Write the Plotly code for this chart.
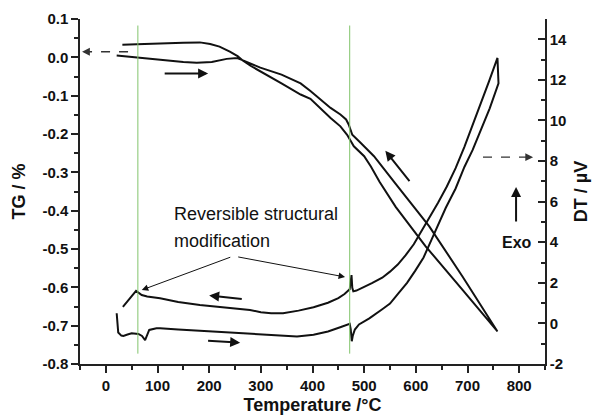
import plotly.graph_objects as go

# ---- TG (mass change, left axis) ----
tg_heat_T = [21, 35, 60, 90, 118, 150, 176, 205, 234, 254, 262, 280, 299, 340, 377, 396,
             435, 454, 465, 470, 474, 477, 493, 519, 561, 626, 690, 758]
tg_heat = [0.005, 0.003, 0.0, -0.004, -0.008, -0.012, -0.014, -0.012, -0.004, -0.002, -0.006,
           -0.017, -0.027, -0.045, -0.068, -0.088, -0.132, -0.149, -0.162, -0.175, -0.189,
           -0.202, -0.223, -0.258, -0.33, -0.441, -0.571, -0.715]

tg_cool_T = [758, 690, 619, 561, 530, 513, 500, 480, 474, 467, 454, 435, 396, 377, 340, 299,
             280, 265, 255, 240, 220, 202, 182, 150, 100, 60, 32]
tg_cool = [-0.715, -0.606, -0.493, -0.39, -0.325, -0.285, -0.258, -0.232, -0.219, -0.202,
           -0.180, -0.158, -0.108, -0.097, -0.068, -0.036, -0.022, -0.008, 0.003, 0.015,
           0.028, 0.035, 0.039, 0.038, 0.035, 0.034, 0.033]

# ---- DT (differential thermal signal, right axis) ----
dt_heat_T = [21, 22, 24, 30, 34, 42, 50, 63, 70, 76, 80, 84, 98, 105, 140, 182, 230, 279,
             343, 370, 402, 430, 455, 468, 472, 474, 476, 478, 482, 490, 510, 535, 550, 567,
             583, 599, 615, 630, 645, 658, 677, 694, 710, 726, 743, 760]
dt_heat = [0.5, 0.0, -0.45, -0.6, -0.62, -0.55, -0.49, -0.52, -0.62, -0.82, -0.55, -0.32,
           -0.24, -0.24, -0.30, -0.36, -0.44, -0.52, -0.62, -0.64, -0.56, -0.40, -0.18, -0.06,
           -0.02, -0.30, -0.88, -0.60, -0.30, -0.05, 0.25, 0.70, 0.98, 1.50, 2.0, 2.6, 3.25,
           4.1, 5.0, 5.7, 6.65, 7.71, 8.55, 9.52, 10.6, 11.83]

dt_cool_T = [758, 742, 726, 710, 694, 677, 660, 643, 626, 610, 596, 580, 565, 550, 535, 515,
             497, 485, 479, 477, 475.5, 474, 472, 462, 450, 430, 402, 373, 343, 320, 300, 279,
             230, 182, 140, 105, 80, 69.5, 58.5, 50, 42, 33]
dt_cool = [13.08, 11.95, 10.84, 9.75, 8.70, 7.65, 6.75, 5.95, 5.20, 4.50, 3.90, 3.35, 2.90,
           2.55, 2.25, 1.98, 1.75, 1.62, 1.58, 1.75, 2.38, 1.9, 1.68, 1.45, 1.25, 1.02, 0.80,
           0.63, 0.50, 0.50, 0.55, 0.66, 0.78, 0.91, 1.06, 1.24, 1.33, 1.40, 1.60, 1.35, 1.10,
           0.82]

# structural transition temperatures (°C)
transitions = [62, 472]

# ---- axes ticks ----
x_ticks = [0, 100, 200, 300, 400, 500, 600, 700, 800]
x_minor = [-50, 50, 150, 250, 350, 450, 550, 650, 750, 850]
tg_ticks = [0.1, 0.0, -0.1, -0.2, -0.3, -0.4, -0.5, -0.6, -0.7, -0.8]
tg_ticktext = ["0.1", "0.0", "-0.1", "-0.2", "-0.3", "-0.4", "-0.5", "-0.6", "-0.7", "-0.8"]
tg_minor = [0.05, -0.05, -0.15, -0.25, -0.35, -0.45, -0.55, -0.65, -0.75]
dt_ticks = [-2, 0, 2, 4, 6, 8, 10, 12, 14]
dt_ticktext = ["-2", "0", "2", "4", "6", "8", "10", "12", "14"]
dt_minor = [-1, 1, 3, 5, 7, 9, 11, 13, 15]

FONT = "Liberation Sans, Arial, sans-serif"
INK = "#111111"


def bold(labels):
    return ["<b>%s</b>" % s for s in labels]


fig = go.Figure()

# TG loop: heating followed by cooling
fig.add_trace(go.Scatter(
    x=tg_heat_T + tg_cool_T, y=tg_heat + tg_cool, mode="lines",
    line=dict(color=INK, width=2), yaxis="y", showlegend=False, hoverinfo="skip"))

# DT loop: heating followed by cooling
fig.add_trace(go.Scatter(
    x=dt_heat_T + dt_cool_T, y=dt_heat + dt_cool, mode="lines",
    line=dict(color=INK, width=2), yaxis="y2", showlegend=False, hoverinfo="skip"))

# vertical markers at the transition temperatures
for t in transitions:
    fig.add_shape(type="line", xref="x", yref="y", x0=t, x1=t, y0=-0.773, y1=0.083,
                  line=dict(color="#82c46c", width=1))

# dashed leaders towards the axes
fig.add_shape(type="line", xref="x", yref="y", x0=43, x1=-38, y0=0.0146, y1=0.0146,
              line=dict(color="#333", width=1.3, dash="dash"))
fig.add_shape(type="line", xref="x", yref="y2", x0=730, x1=815, y0=8.19, y1=8.19,
              line=dict(color="#333", width=1.3, dash="dash"))

annotations = []


def arrow(x, y, ax, ay, yref="y", width=2, head=2, size=1.0, color=INK):
    annotations.append(dict(
        x=x, y=y, ax=ax, ay=ay, xref="x", yref=yref, axref="x", ayref=yref,
        showarrow=True, arrowhead=head, arrowsize=size, arrowwidth=width,
        arrowcolor=color, standoff=0, startstandoff=0, text=""))


# arrowheads of the dashed leaders
arrow(-46, 0.0146, -36, 0.0146, width=1.3, size=1.2, color="#333")
arrow(827, 8.19, 812, 8.19, yref="y2", width=1.3, size=1.2, color="#333")

# heating / cooling direction arrows
arrow(198, -0.042, 111, -0.042)
arrow(541, -0.244, 590, -0.327)
arrow(200, 1.38, 266, 1.19, yref="y2")
arrow(260, -0.95, 195, -0.85, yref="y2")
# exothermic direction
arrow(794, 6.72, 794, 4.95, yref="y2")

# pointers to the reversible structural modification
arrow(69.5, -0.607, 243.7, -0.520, width=1, size=1.3)
arrow(463, -0.573, 253.3, -0.520, width=1, size=1.3)

annotations += [
    dict(x=128, y=-0.408, xref="x", yref="y", text="Reversible structural",
         showarrow=False, xanchor="left", yanchor="middle",
         font=dict(family=FONT, size=18, color=INK)),
    dict(x=128, y=-0.478, xref="x", yref="y", text="modification",
         showarrow=False, xanchor="left", yanchor="middle",
         font=dict(family=FONT, size=18, color=INK)),
    dict(x=828, y=3.98, xref="x", yref="y2", text="<b>Exo</b>", showarrow=False,
         xanchor="right", yanchor="middle",
         font=dict(family=FONT, size=16, color=INK)),
]

tickfont = dict(family=FONT, size=15, color=INK)
titlefont = dict(family=FONT, size=18, color=INK)
axis_common = dict(showgrid=False, zeroline=False, showline=True, linecolor="#222",
                   linewidth=1.5, tickcolor="#222", tickwidth=1.5, ticklen=7,
                   tickfont=tickfont)

fig.update_layout(
    width=598, height=420,
    margin=dict(l=80, r=53, t=19, b=56, autoexpand=False),
    paper_bgcolor="white", plot_bgcolor="white",
    annotations=annotations,
    xaxis=dict(range=[-50, 850], tickvals=x_ticks, ticktext=bold([str(v) for v in x_ticks]),
               ticks="outside",
               minor=dict(tickvals=x_minor, ticklen=4, ticks="outside",
                          tickcolor="#222", tickwidth=1.5),
               title=dict(text="<b>Temperature /°C</b>", font=titlefont, standoff=6),
               **axis_common),
    yaxis=dict(range=[-0.8, 0.1], tickvals=tg_ticks, ticktext=bold(tg_ticktext),
               ticks="outside",
               minor=dict(tickvals=tg_minor, ticklen=4, ticks="outside",
                          tickcolor="#222", tickwidth=1.5),
               title=dict(text="<b>TG / %</b>", font=titlefont, standoff=12),
               **axis_common),
    yaxis2=dict(range=[-2, 15], tickvals=dt_ticks, ticktext=bold(dt_ticktext),
                overlaying="y", side="right", ticks="inside",
                minor=dict(tickvals=dt_minor, ticklen=4, ticks="inside",
                           tickcolor="#222", tickwidth=1.5),
                title=dict(text="<b>DT / µV</b>", font=titlefont, standoff=8),
                **axis_common),
)

fig.write_html("out.html")
